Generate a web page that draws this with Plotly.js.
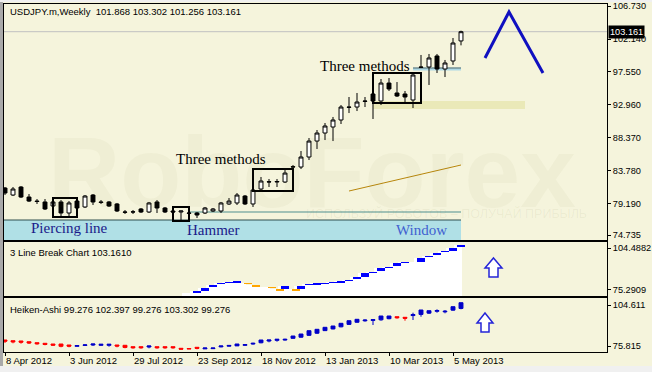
<!DOCTYPE html>
<html><head><meta charset="utf-8">
<script src="https://cdn.plot.ly/plotly-3.0.1.min.js"></script>
<style>html,body{margin:0;padding:0;background:#f5f4dc;}#chart{width:652px;height:372px;}</style>
</head><body><div id="chart"></div>
<script>
// ---------------- DATA ----------------
const tickPos = [0, 8, 16, 24, 32, 40, 48, 56];
const tickLabels = ["8 Apr 2012","3 Jun 2012","29 Jul 2012","23 Sep 2012","18 Nov 2012","13 Jan 2013","10 Mar 2013","5 May 2013"];

const open  = [81.33,80.35,81.47,80.07,79.51,79.38,78.82,79.38,77.84,79.51,78.68,80.35,79.38,79.38,79.10,77.98,77.98,78.40,77.98,79.38,78.54,78.12,77.98,77.84,77.84,77.84,78.12,78.12,79.10,79.24,80.21,79.10,81.19,82.17,82.17,82.17,84.26,84.26,85.66,87.89,89.01,89.85,90.83,92.64,92.64,93.48,94.46,93.48,95.99,94.60,94.46,93.62,98.23,98.23,99.77,97.95,99.07,101.868];
const high  = [81.47,81.47,81.60,80.49,79.79,79.79,79.51,79.65,79.51,79.79,80.35,80.49,79.65,79.51,79.24,78.26,78.26,78.54,79.38,79.65,78.68,78.26,78.15,77.98,77.98,78.68,78.54,79.38,79.93,80.63,80.35,81.19,82.87,82.59,82.59,83.84,84.54,86.50,88.31,89.43,90.41,91.25,92.92,94.04,94.60,94.04,94.60,96.55,96.69,96.13,94.88,97.53,99.91,100.05,100.05,99.21,102.28,103.302];
const low   = [80.35,80.21,79.93,79.38,79.10,78.26,78.68,77.42,77.42,78.40,78.54,78.96,79.10,78.68,77.98,77.70,77.70,77.84,77.84,77.84,77.84,77.84,76.86,77.70,77.14,77.70,77.98,77.84,78.96,78.96,78.96,78.68,80.91,81.47,81.47,82.03,83.98,83.98,85.24,86.78,88.03,87.89,90.27,91.80,92.08,92.64,90.97,92.92,94.88,94.04,93.34,92.50,98.09,95.72,97.39,96.83,98.51,101.256];
const close = [80.63,81.19,80.07,79.51,79.45,78.40,79.38,77.84,79.24,78.54,80.21,79.38,79.32,78.82,78.12,77.95,78.00,77.98,79.24,78.54,77.98,77.98,78.12,77.80,77.56,78.54,78.40,79.24,79.51,80.35,79.10,81.05,82.31,82.20,82.24,83.42,84.30,85.66,87.89,89.01,89.99,90.83,92.64,92.60,93.34,93.44,93.48,95.99,95.16,94.18,94.04,97.11,98.19,99.49,97.95,98.79,101.58,103.161];
const lastClose = 103.161;

const haOpen  = [80.03,79.54,79.33,78.83,78.13,77.71,77.22,77.22,76.52,75.6,76.2,76.5,76.3,76.3,76.52,76.31,75.32,75.32,75.1,75.32,75.32,75.32,74.19,74.05,74.90,73.8,73.95,75.2,75.7,75.9,76.3,77.2,78.1,79.3,79.8,80.0,81.2,82.0,83.3,84.8,86.6,87.8,89.3,91.0,92.5,93.5,93.8,94.2,95.0,96.39,95.97,97.2,98.0,98.9,100.2,99.8,101.0,102.2];
const haClose = [79.2,78.7,78.5,77.9,77.4,76.9,76.4,75.6,75.7,76.1,76.6,77.22,77.01,77.01,75.8,74.8,74.6,74.6,75.82,74.6,74.6,74.6,73.6,73.8,74.2,74.41,74.41,75.82,76.2,77.22,76.8,77.7,80.03,80.03,80.52,80.5,82.84,84.24,86.56,87.54,88.95,89.86,91.76,93.58,94.57,94.0,94.3,96.89,96.89,95.7,95.3,97.9,101.10,100.61,100.7,100.2,103.42,106.23];
const haHigh  = [80.03,79.54,79.33,78.83,78.13,77.71,77.22,77.22,76.52,76.52,77.01,77.22,77.01,77.01,76.52,76.31,75.32,75.32,75.82,75.32,75.32,75.32,74.19,74.05,74.90,74.41,74.41,75.82,76.52,77.22,77.22,78.13,80.03,80.03,80.52,80.94,82.84,84.24,86.56,87.54,88.95,89.86,91.76,93.58,94.57,94.57,94.57,96.89,96.89,96.39,95.97,99.20,101.10,100.61,101.59,101.10,103.42,106.23];
const haLow   = [77.92,77.71,77.43,77.22,76.73,76.31,75.82,74.90,74.90,75.32,75.82,75.82,75.82,75.32,74.90,74.19,73.91,73.91,74.19,73.91,73.91,73.91,73.49,73.7,73.49,73.71,73.91,74.90,75.32,75.82,75.82,76.73,77.71,78.41,78.83,79.54,80.94,81.65,82.84,84.24,86.35,87.54,88.95,90.56,92.18,92.88,90.56,93.58,94.57,94.99,93.58,94.08,96.39,98.29,99.20,98.78,100.61,101.59];

// 3 Line Break: weeks 23..57
const lbFirst = 23;
const lbLow  = [null,73.37,74.58,77.43,79.56,80.0,80.28,79.56,77.43,null,76.72,74.58,76.00,74.58,76.00,78.85,78.85,79.56,79.8,80.28,81.70,83.12,84.55,87.40,88.82,90.25,91.67,93.81,null,94.52,98.08,99.50,101.64,102.35,105.20];
const lbHigh = [null,74.79,76.72,78.85,80.28,80.7,81.70,80.28,78.85,null,77.43,76.00,78.14,76.00,78.14,79.56,80.28,80.28,80.5,81.70,82.41,84.55,87.40,88.11,90.25,90.96,93.81,94.52,null,97.37,98.79,100.93,102.35,104.49,106.62];
const lbDir  = ["","u","u","u","u","u","u","d","d","","d","d","u","d","u","u","u","u","u","u","u","u","u","u","u","u","u","u","","u","u","u","u","u","u"];
const lbArea = [73.16,74.79,76.72,78.85,80.28,80.7,81.70,80.28,78.85,77.43,77.43,76.00,78.14,76.00,78.14,79.56,80.28,80.28,80.5,81.70,82.41,84.55,87.40,88.11,90.25,90.96,93.81,94.52,94.52,97.37,98.79,100.93,102.35,104.49,106.62];

const mainTicks = [106.730,102.140,97.550,92.960,88.370,83.780,79.190,74.735];
const mainTickText = ["106.730","102.140","97.550","92.960","88.370","83.780","79.190","74.735"];
const lbTicks = [104.4882, 75.2909];
const lbTickText = ["104.4882","75.2909"];
const haTicks = [104.611, 75.815];
const haTickText = ["104.611","75.815"];

// ---------------- BUILD ----------------
const W = 652, H = 372;
const px = x => x / W, py = y => 1 - y / H;
const idx = open.map((_, i) => i);
const lbX = lbLow.map((_, i) => lbFirst + i);
const sel = (arr, f) => arr.filter((_, i) => f(i));
const isU = i => lbDir[i] === "u", isD = i => lbDir[i] === "d";

const XR = [-0.125, 75.25];
const font = "Liberation Sans, Arial, sans-serif";
const serif = "Liberation Serif, Times New Roman, serif";
const FS = 9.5, AFS = 9.2;

const traces = [
  {type:'candlestick', x: idx, open, high, low, close, xaxis:'x', yaxis:'y',
   increasing:{line:{color:'#000', width:1}, fillcolor:'#ffffff'},
   decreasing:{line:{color:'#000', width:1}, fillcolor:'#000000'},
   whiskerwidth:0, hoverinfo:'skip', showlegend:false},
  {type:'bar', x: lbX, y: lbArea.map(v => v - 60), base: 60, width: 1, xaxis:'x2', yaxis:'y2',
   marker:{color:'#ffffff', line:{width:0}}, hoverinfo:'skip', showlegend:false},
  {type:'bar', x: sel(lbX, isU), base: sel(lbLow, isU), y: sel(lbHigh, isU).map((h, j) => h - sel(lbLow, isU)[j]),
   width: 1, xaxis:'x2', yaxis:'y2', marker:{color:'#0000ff', line:{width:0}}, hoverinfo:'skip', showlegend:false},
  {type:'bar', x: sel(lbX, isD), base: sel(lbLow, isD), y: sel(lbHigh, isD).map((h, j) => h - sel(lbLow, isD)[j]),
   width: 1, xaxis:'x2', yaxis:'y2', marker:{color:'#ffa500', line:{width:0}}, hoverinfo:'skip', showlegend:false},
  {type:'candlestick', x: idx, open: haOpen, high: haHigh, low: haLow, close: haClose, xaxis:'x3', yaxis:'y3',
   increasing:{line:{color:'#0000c8', width:1}, fillcolor:'#0000c8'},
   decreasing:{line:{color:'#ff0000', width:1}, fillcolor:'#ff0000'},
   whiskerwidth:0, hoverinfo:'skip', showlegend:false}
];

const axX = {domain:[px(4), px(607)], range: XR, showgrid:false, zeroline:false, showline:true, mirror:true,
  linecolor:'#000', linewidth:1, ticks:'', showticklabels:false, rangeslider:{visible:false}, fixedrange:true};
const axY = (d0, d1, r, tv, tt) => ({domain:[py(d1), py(d0)], range:r, side:'right', showgrid:false, zeroline:false,
  showline:true, mirror:true, linecolor:'#000', linewidth:1, ticks:'outside', ticklen:3, tickcolor:'#000',
  tickvals: tv, ticktext: tt, tickfont:{family:font, size:AFS, color:'#000'}, fixedrange:true});

const xa3 = Object.assign({}, axX, {matches:'x', anchor:'y3', ticks:'outside', ticklen:3, tickcolor:'#000',
  showticklabels:true, tickvals: tickPos, ticktext: tickLabels, ticklabelposition:'outside right',
  tickfont:{family:font, size:FS, color:'#000'}});

const R = (x0, y0, x1, y1, o) => Object.assign({type:'rect', xref:'paper', yref:'paper',
  x0:px(x0), x1:px(x1), y0:py(y1), y1:py(y0)}, o);
const L = (x0, y0, x1, y1, o) => Object.assign({type:'line', xref:'paper', yref:'paper',
  x0:px(x0), x1:px(x1), y0:py(y0), y1:py(y1)}, o);
const P = pts => pts.map((p, i) => (i ? 'L' : 'M') + px(p[0]).toFixed(5) + ',' + py(p[1]).toFixed(5)).join(' ');
const arrow = (cx, top, hb, hw, sw, yb) => P([[cx, top],[cx+hw, hb],[cx+sw, hb],[cx+sw, yb],[cx-sw, yb],[cx-sw, hb],[cx-hw, hb]]) + ' Z';

const shapes = [
  R(0, 0, 3, 372, {fillcolor:'#a9a9a9', line:{width:0}, layer:'below'}),
  R(0, 0, 652, 2, {fillcolor:'#f0f0f0', line:{width:0}, layer:'below'}),
  R(0, 366, 652, 372, {fillcolor:'#f0f0f0', line:{width:0}, layer:'below'}),
  R(4, 220, 461, 240, {fillcolor:'#b0e0e6', line:{width:0}, layer:'below'}),
  L(4, 220, 461, 220, {line:{color:'#2f4f4f', width:1}, layer:'below'}),
  L(189, 212, 461, 212, {line:{color:'#4f8f8f', width:1}, layer:'below'}),
  R(373, 101, 525, 109, {fillcolor:'#eae9b8', line:{width:0}, layer:'below'}),
  {type:'line', xref:'paper', yref:'y', x0:px(4), x1:px(607), y0:lastClose, y1:lastClose, line:{color:'#c0c0c0', width:1}, layer:'below'},
  L(413, 69, 461, 69, {line:{color:'#add8e6', width:3}, layer:'below'}),
  L(413, 68, 461, 68, {line:{color:'#556b6b', width:1}, layer:'below'}),
  R(53, 198, 77, 217, {line:{color:'#000', width:2}}),
  R(173, 207, 189, 221, {line:{color:'#000', width:2}}),
  R(253, 169, 293, 191, {line:{color:'#000', width:2}}),
  R(373, 73, 421, 103, {line:{color:'#000', width:2}}),
  L(349, 191, 461, 165, {line:{color:'#b8860b', width:1}}),
  {type:'path', xref:'paper', yref:'paper', path: P([[485,58],[509,12],[543,73]]), line:{color:'#1010c0', width:3}},
  {type:'path', xref:'paper', yref:'paper', path: arrow(493.5, 258, 268, 8.5, 4.5, 277), fillcolor:'#ffffff', line:{color:'#2424d8', width:1.5}},
  {type:'path', xref:'paper', yref:'paper', path: arrow(485, 313, 323, 8, 4, 332), fillcolor:'#ffffff', line:{color:'#2424d8', width:1.5}}
];

const A = (text, x, y, o) => Object.assign({text, xref:'paper', yref:'paper', x:px(x), y:py(y),
  xanchor:'left', yanchor:'middle', showarrow:false, font:{family:font, size:FS, color:'#000'}}, o);

const annotations = [
  A('RoboForex', 312, 172, {xanchor:'center', font:{family:'Liberation Sans, Arial', size:100, color:'rgba(110,110,50,0.045)', weight:700}}),
  A('ИСПОЛЬЗУЙ РОБОТОВ – ПОЛУЧАЙ ПРИБЫЛЬ', 446, 213, {xanchor:'center', font:{family:font, size:12.5, color:'rgba(110,110,50,0.07)'}}),
  A('USDJPY.m,Weekly&nbsp;&nbsp;101.868 103.302 101.256 103.161', 8, 12),
  A('3 Line Break Chart 103.1610', 8, 253),
  A('Heiken-Ashi 99.276 102.397 99.276 103.302 99.276', 8, 309),
  A('Three methods', 221, 159, {xanchor:'center', font:{family:serif, size:15, color:'#000'}}),
  A('Three methods', 365, 66, {xanchor:'center', font:{family:serif, size:15, color:'#000'}}),
  A('Piercing line', 69, 228, {xanchor:'center', font:{family:serif, size:15, color:'#1a1a8a'}}),
  A('Hammer', 213, 230, {xanchor:'center', font:{family:serif, size:15, color:'#1a1a8a'}}),
  A('Window', 421, 230, {xanchor:'center', font:{family:serif, size:15, color:'#4060d0'}}),
  {text:'103.161', xref:'paper', yref:'y', x:px(608), y:lastClose, xanchor:'left', yanchor:'middle', showarrow:false,
   bgcolor:'#000', borderpad:1, font:{family:font, size:AFS, color:'#fff'}}
];

const layout = {
  width: W, height: H, margin:{l:0, r:0, t:0, b:0},
  paper_bgcolor:'#f5f4dc', plot_bgcolor:'rgba(0,0,0,0)', showlegend:false, bargap:0,
  xaxis: Object.assign({}, axX, {anchor:'y'}),
  xaxis2: Object.assign({}, axX, {anchor:'y2', matches:'x'}),
  xaxis3: xa3,
  yaxis: Object.assign(axY(4, 240, [74.07, 107.028], mainTicks, mainTickText), {anchor:'x'}),
  yaxis2: Object.assign(axY(242, 296, [71.02, 108.76], lbTicks, lbTickText), {anchor:'x2'}),
  yaxis3: Object.assign(axY(298, 352, [71.60, 109.53], haTicks, haTickText), {anchor:'x3'}),
  shapes, annotations
};

Plotly.newPlot('chart', traces, layout, {staticPlot:true, displayModeBar:false});
</script></body></html>
